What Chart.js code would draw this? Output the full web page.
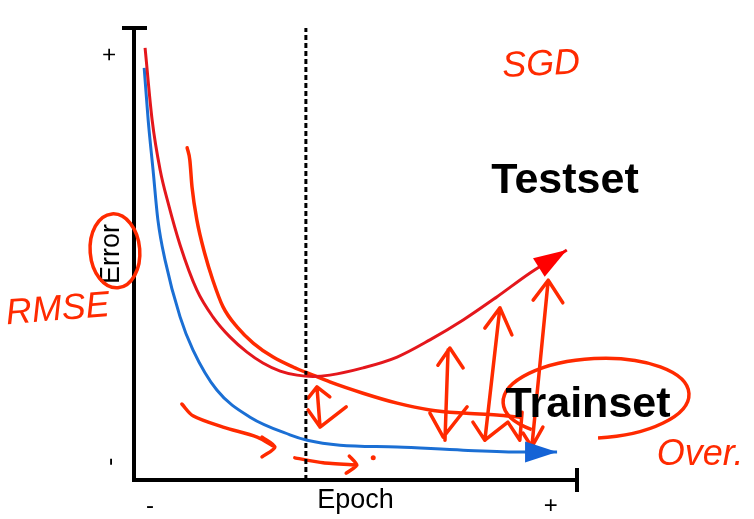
<!DOCTYPE html>
<html>
<head>
<meta charset="utf-8">
<script src="https://cdn.jsdelivr.net/npm/chart.js@4.4.0/dist/chart.umd.min.js"></script>
<style>
  html, body { margin: 0; padding: 0; background: #fff; }
  #contenedor { width: 754px; height: 519px; position: relative; }
</style>
</head>
<body>
<div id="contenedor"><canvas id="errorChart"></canvas></div>
<script>
// Curva de error en el conjunto de prueba (epoch 0..100, error 0..100)
const testEpoch = [2.5, 4.1, 5.9, 7.7, 10.4, 14.2, 17.8, 21.7, 25.5, 29.1, 33.0, 36.8, 40.4, 44.2, 51.7, 59.4, 66.8, 74.3, 81.9, 89.4, 97.7];
const testError = [95.6, 79.6, 68.6, 61.3, 52.0, 42.0, 36.1, 31.6, 28.3, 25.9, 24.1, 23.2, 22.9, 23.2, 24.8, 27.2, 31.0, 35.4, 40.5, 45.8, 50.9];

// Curva de error en el conjunto de entrenamiento
const trainEpoch = [2.3, 3.2, 4.3, 5.4, 7.0, 10.4, 13.3, 18.7, 26.2, 35.2, 39.1, 46.5, 59.4, 74.3, 87.8, 95.5];
const trainError = [91.2, 79.6, 68.6, 57.5, 48.7, 36.1, 28.8, 19.9, 13.9, 10.0, 8.8, 7.7, 7.3, 6.6, 6.2, 6.2];

// Línea punteada (punto de parada)
const stopEpoch = 38.8;

// Etiquetas de los ejes
const xTickValues = [3.6, 94.1];
const xTickLabels = ['-', '+'];
const yTickValues = [95.7, 4.9];
const yTickLabels = ['+', '-'];

// Curva dibujada a mano
const penEpoch = [12.0, 12.6, 13.1, 14.2, 16.0, 17.8, 20.1, 23.3, 26.9, 31.4, 35.9, 40.4, 44.2, 51.7, 59.4, 66.8, 74.3, 81.9, 87.1];
const penError = [73.5, 70.8, 64.8, 57.5, 50.0, 44.2, 38.3, 33.8, 30.3, 27.2, 25.0, 23.2, 21.7, 19.2, 17.0, 15.5, 14.8, 14.4, 13.9];

// Trazos a mano: pares [epoch, error], null separa trazos
const flechaAbajo1 = [[10.8, 16.8], [13.3, 14.2], [20.1, 11.7], [27.8, 9.5], [31.8, 7.3], null, [28.9, 9.5], [31.8, 7.3], [28.9, 5.1]];
const flechaAbajo2 = [[36.3, 4.9], [42.7, 3.8], [50.3, 3.3], null, [48.6, 5.3], [50.3, 3.3], [47.9, 1.5]];
const puntoAbajo = [[54.0, 4.9]];
const flechaParada = [[41.3, 20.6], [42.0, 11.7], null, [39.3, 18.1], [41.3, 20.6], [44.2, 18.4], null, [39.3, 15.5], [42.0, 11.7], [47.9, 16.2]];
const flechaBrecha1 = [[70.2, 8.8], [70.9, 28.8], null, [68.6, 25.4], [71.3, 29.2], [74.3, 24.8], null, [66.8, 14.8], [69.8, 9.5], [75.2, 16.2]];
const flechaBrecha2 = [[79.2, 8.8], [82.6, 38.1], null, [79.2, 33.6], [82.6, 38.1], [85.3, 32.1], null, [76.5, 12.8], [79.2, 8.8], [84.4, 12.8], [87.1, 8.8], [87.6, 15.0]];
const flechaBrecha3 = [[89.8, 7.3], [93.5, 44.2], null, [90.1, 39.8], [93.5, 44.2], [96.8, 39.2], null, [87.8, 10.4], [89.8, 7.3], [92.3, 11.7]];

// Colores
const colores = {
  test: '#e4171c',
  testPunta: '#ff0000',
  train: '#1b6fd4',
  trainPunta: '#1463d6',
  lapiz: '#ff2a00',
  eje: '#000000'
};

const fuente = '"Liberation Sans", Arial, sans-serif';

// Óvalos y textos sobre el gráfico (en unidades de los ejes)
const ovalos = [
  { cx: -4.3, cy: 50.7, rx: 5.6, ry: 8.2, rot: -0.08, desde: 0, hasta: Math.PI * 2, ccw: false },
  { cx: 104.3, cy: 18.1, rx: 21.0, ry: 8.8, rot: -0.05, desde: Math.PI * 0.5, hasta: Math.PI * 0.75, ccw: true }
];
const textos = [
  { t: 'Testset', x: 97.3, y: 63.5, font: 'bold 43px ' + fuente, color: '#000', base: 'alphabetic' },
  { t: 'Trainset', x: 102.5, y: 13.9, font: 'bold 43px ' + fuente, color: '#000', base: 'alphabetic' },
  { t: 'SGD', x: 91.9, y: 91.8, font: 'italic 36px ' + fuente, color: colores.lapiz, base: 'middle', rot: -0.05 },
  { t: 'RMSE', x: -17.2, y: 37.6, font: 'italic 36px ' + fuente, color: colores.lapiz, base: 'middle', rot: -0.08 },
  { t: 'Over.', x: 127.8, y: 5.5, font: 'italic 36px ' + fuente, color: colores.lapiz, base: 'middle', rot: 0 }
];

function puntos(xs, ys) {
  return xs.map((x, i) => ({ x: x, y: ys[i] }));
}

function trazo(pares) {
  let ultimoX = 0;
  return pares.map(p => {
    if (p === null) return { x: ultimoX, y: null };
    ultimoX = p[0];
    return { x: p[0], y: p[1] };
  });
}

function datasetLapiz(pares, tension) {
  return {
    data: trazo(pares),
    borderColor: colores.lapiz,
    borderWidth: 3.5,
    pointRadius: 0,
    tension: tension || 0,
    spanGaps: false,
    borderCapStyle: 'round',
    borderJoinStyle: 'round',
    clip: false
  };
}

// Plugin: remates de ejes, puntas de flecha, óvalos y textos
const anotaciones = {
  id: 'anotaciones',
  afterDatasetsDraw(chart) {
    const { ctx, scales: { x, y } } = chart;
    ctx.save();

    ctx.strokeStyle = colores.eje;
    ctx.lineWidth = 4;
    ctx.beginPath();
    ctx.moveTo(x.left - 12, y.top);
    ctx.lineTo(x.left + 13, y.top);
    ctx.moveTo(x.right, y.bottom - 12);
    ctx.lineTo(x.right, y.bottom + 12);
    ctx.stroke();

    chart.data.datasets.forEach((ds, i) => {
      if (!ds.punta) return;
      const pts = chart.getDatasetMeta(i).data;
      const a = pts[pts.length - 2];
      const b = pts[pts.length - 1];
      const ang = Math.atan2(b.y - a.y, b.x - a.x);
      const largo = ds.punta.largo, ancho = ds.punta.ancho;
      const bx = b.x - Math.cos(ang) * largo;
      const by = b.y - Math.sin(ang) * largo;
      ctx.fillStyle = ds.punta.color;
      ctx.beginPath();
      ctx.moveTo(b.x, b.y);
      ctx.lineTo(bx + Math.sin(ang) * ancho / 2, by - Math.cos(ang) * ancho / 2);
      ctx.lineTo(bx - Math.sin(ang) * ancho / 2, by + Math.cos(ang) * ancho / 2);
      ctx.closePath();
      ctx.fill();
    });

    ctx.strokeStyle = colores.lapiz;
    ctx.lineWidth = 3.5;
    ovalos.forEach(o => {
      const cx = x.getPixelForValue(o.cx);
      const cy = y.getPixelForValue(o.cy);
      const rx = Math.abs(x.getPixelForValue(o.cx + o.rx) - cx);
      const ry = Math.abs(y.getPixelForValue(o.cy + o.ry) - cy);
      ctx.beginPath();
      ctx.ellipse(cx, cy, rx, ry, o.rot, o.desde, o.hasta, o.ccw);
      ctx.stroke();
    });

    textos.forEach(t => {
      ctx.save();
      ctx.translate(x.getPixelForValue(t.x), y.getPixelForValue(t.y));
      ctx.rotate(t.rot || 0);
      ctx.font = t.font;
      ctx.fillStyle = t.color;
      ctx.textAlign = 'center';
      ctx.textBaseline = t.base;
      ctx.fillText(t.t, 0, 0);
      ctx.restore();
    });

    ctx.restore();
  }
};

const ctx = document.getElementById('errorChart').getContext('2d');
new Chart(ctx, {
  type: 'line',
  data: {
    datasets: [
      {
        data: puntos(testEpoch, testError),
        borderColor: colores.test,
        borderWidth: 3,
        pointRadius: 0,
        cubicInterpolationMode: 'monotone',
        clip: false,
        punta: { largo: 33, ancho: 22, color: colores.testPunta }
      },
      {
        data: puntos(trainEpoch, trainError),
        borderColor: colores.train,
        borderWidth: 3,
        pointRadius: 0,
        cubicInterpolationMode: 'monotone',
        clip: false,
        punta: { largo: 32, ancho: 21, color: colores.trainPunta }
      },
      {
        data: [{ x: stopEpoch, y: 0 }, { x: stopEpoch, y: 100 }],
        borderColor: colores.eje,
        borderWidth: 3,
        borderDash: [5, 3],
        pointRadius: 0,
        clip: false
      },
      {
        data: puntos(penEpoch, penError),
        borderColor: colores.lapiz,
        borderWidth: 3.5,
        pointRadius: 0,
        cubicInterpolationMode: 'monotone',
        borderCapStyle: 'round',
        clip: false
      },
      datasetLapiz(flechaAbajo1, 0.3),
      datasetLapiz(flechaAbajo2, 0.2),
      {
        data: trazo(puntoAbajo),
        showLine: false,
        pointRadius: 2.5,
        pointBackgroundColor: colores.lapiz,
        pointBorderWidth: 0,
        clip: false
      },
      datasetLapiz(flechaParada, 0),
      datasetLapiz(flechaBrecha1, 0),
      datasetLapiz(flechaBrecha2, 0),
      datasetLapiz(flechaBrecha3, 0)
    ]
  },
  options: {
    responsive: true,
    maintainAspectRatio: false,
    animation: false,
    events: [],
    layout: { padding: { left: 0, right: 177, top: 28, bottom: 0 } },
    plugins: {
      legend: { display: false },
      tooltip: { enabled: false }
    },
    scales: {
      x: {
        type: 'linear',
        min: 0,
        max: 100,
        afterBuildTicks: s => { s.ticks = xTickValues.map(v => ({ value: v })); },
        afterFit: s => { s.height = 39; s.paddingLeft = 0; s.paddingRight = 0; },
        grid: { display: false, drawTicks: false },
        border: { display: true, color: colores.eje, width: 4 },
        ticks: {
          callback: (v, i) => xTickLabels[i],
          font: { family: fuente, size: 24 },
          color: '#000',
          padding: 12,
          maxRotation: 0,
          autoSkip: false
        },
        title: {
          display: true,
          text: 'Epoch',
          font: { family: fuente, size: 27 },
          color: '#000',
          padding: { top: 0, bottom: 2 }
        }
      },
      y: {
        type: 'linear',
        min: 0,
        max: 100,
        afterBuildTicks: s => { s.ticks = yTickValues.map(v => ({ value: v })); },
        afterFit: s => { s.width = 134; s.paddingTop = 0; s.paddingBottom = 0; },
        grid: { display: false, drawTicks: false },
        border: { display: true, color: colores.eje, width: 4 },
        ticks: {
          callback: (v, i) => yTickLabels[i],
          font: { family: fuente, size: 24 },
          color: '#000',
          padding: 24,
          minRotation: 90,
          maxRotation: 90,
          autoSkip: false
        },
        title: {
          display: true,
          text: 'Error',
          font: { family: fuente, size: 27 },
          color: '#000',
          padding: { top: 95, bottom: 0 }
        }
      }
    }
  },
  plugins: [anotaciones]
});
</script>
</body>
</html>
